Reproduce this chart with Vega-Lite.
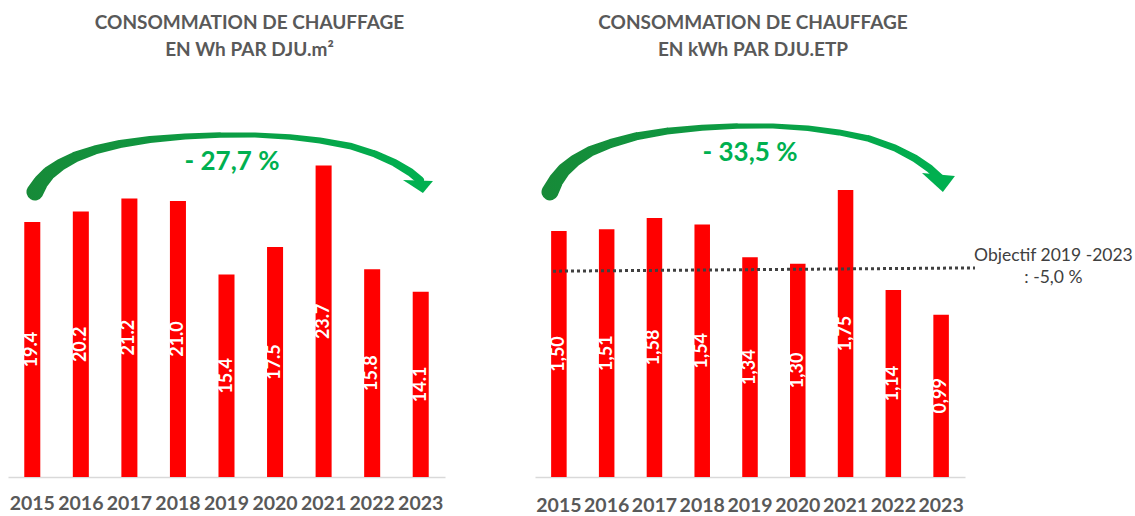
{
  "$schema": "https://vega.github.io/schema/vega-lite/v6.json",
  "background": "white",
  "padding": {"left": 8, "top": 14, "right": 2, "bottom": 2},
  "spacing": 90,
  "config": {"view": {"stroke": null}, "font": "Lato"},
  "datasets": {
    "left": [
      {"year": "2015", "v": 19.4}, {"year": "2016", "v": 20.2}, {"year": "2017", "v": 21.2},
      {"year": "2018", "v": 21.0}, {"year": "2019", "v": 15.4}, {"year": "2020", "v": 17.5},
      {"year": "2021", "v": 23.7}, {"year": "2022", "v": 15.8}, {"year": "2023", "v": 14.1}
    ],
    "right": [
      {"year": "2015", "v": 1.50, "lbl": "1,50"}, {"year": "2016", "v": 1.51, "lbl": "1,51"},
      {"year": "2017", "v": 1.58, "lbl": "1,58"}, {"year": "2018", "v": 1.54, "lbl": "1,54"},
      {"year": "2019", "v": 1.34, "lbl": "1,34"}, {"year": "2020", "v": 1.30, "lbl": "1,30"},
      {"year": "2021", "v": 1.75, "lbl": "1,75"}, {"year": "2022", "v": 1.14, "lbl": "1,14"},
      {"year": "2023", "v": 0.99, "lbl": "0,99"}
    ],
    "arcL": [
      {"yr": 2015.056, "v": 21.69, "t": 17}, {"yr": 2015.180, "v": 22.45, "t": 15},
      {"yr": 2015.344, "v": 23.14, "t": 13.5}, {"yr": 2015.571, "v": 23.74, "t": 12},
      {"yr": 2015.880, "v": 24.35, "t": 10.5}, {"yr": 2016.292, "v": 24.89, "t": 9},
      {"yr": 2016.806, "v": 25.34, "t": 8}, {"yr": 2017.424, "v": 25.68, "t": 7},
      {"yr": 2018.145, "v": 25.91, "t": 6}, {"yr": 2018.866, "v": 26.03, "t": 5.5},
      {"yr": 2019.586, "v": 26.03, "t": 5}, {"yr": 2020.307, "v": 25.88, "t": 5.5},
      {"yr": 2020.925, "v": 25.61, "t": 6}, {"yr": 2021.543, "v": 25.19, "t": 6.5},
      {"yr": 2022.058, "v": 24.58, "t": 7}, {"yr": 2022.469, "v": 23.90, "t": 7.5},
      {"yr": 2022.778, "v": 23.21, "t": 8}, {"yr": 2022.984, "v": 22.60, "t": 8}
    ],
    "arcR": [
      {"yr": 2014.814, "v": 1.738, "t": 17}, {"yr": 2014.940, "v": 1.809, "t": 15},
      {"yr": 2015.107, "v": 1.872, "t": 13.5}, {"yr": 2015.337, "v": 1.929, "t": 12},
      {"yr": 2015.651, "v": 1.985, "t": 10.5}, {"yr": 2016.091, "v": 2.034, "t": 9},
      {"yr": 2016.614, "v": 2.077, "t": 8}, {"yr": 2017.263, "v": 2.109, "t": 7},
      {"yr": 2017.995, "v": 2.130, "t": 6}, {"yr": 2018.728, "v": 2.140, "t": 5.5},
      {"yr": 2019.481, "v": 2.140, "t": 5}, {"yr": 2020.214, "v": 2.126, "t": 5.5},
      {"yr": 2020.862, "v": 2.101, "t": 6}, {"yr": 2021.490, "v": 2.063, "t": 6.5},
      {"yr": 2022.035, "v": 2.006, "t": 7}, {"yr": 2022.453, "v": 1.943, "t": 7.5},
      {"yr": 2022.767, "v": 1.879, "t": 8}, {"yr": 2022.976, "v": 1.823, "t": 8}
    ],
    "headL": [{"yr": 2022.943, "v": 22.22}],
    "headR": [{"yr": 2022.934, "v": 1.805}],
    "pctL": [{"yr": 2019.113, "v": 23.97, "label": "- 27,7 %"}],
    "pctR": [{"yr": 2019.0, "v": 1.976, "label": "- 33,5 %"}],
    "obj": [{"x1": 2014.877, "x2": 2023.709, "y1": 1.255, "y2": 1.275}],
    "objTxt": [{"yr": 2025.35, "v": 1.345, "label": "Objectif 2019 -2023\n: -5,0 %"}]
  },
  "hconcat": [
    {
      "width": 437,
      "height": 397,
      "title": {
        "text": ["CONSOMMATION DE CHAUFFAGE", "EN Wh PAR DJU.m²"],
        "font": "Lato", "fontSize": 19, "fontWeight": "bold", "color": "#595959",
        "lineHeight": 27, "anchor": "middle", "dx": 23, "offset": 20
      },
      "layer": [
        {
          "data": {"name": "left"},
          "mark": {"type": "bar", "color": "#ff0000", "width": {"band": 0.33}},
          "encoding": {
            "x": {"field": "year", "type": "ordinal", "scale": {"paddingInner": 0, "paddingOuter": 0},
              "axis": {"title": null, "ticks": false, "labelAngle": 0, "labelFont": "Lato", "labelFontWeight": "bold",
                "labelFontSize": 19.5, "labelColor": "#595959", "labelPadding": 17, "domainColor": "#d9d9d9",
                "domainWidth": 1.5, "grid": false}},
            "y": {"field": "v", "type": "quantitative", "scale": {"domain": [0, 30.21], "nice": false}, "axis": null}
          }
        },
        {
          "data": {"name": "left"},
          "mark": {"type": "text", "color": "white", "font": "Lato", "fontWeight": "bold", "fontSize": 18,
            "angle": 270, "align": "center", "baseline": "middle"},
          "encoding": {
            "x": {"field": "year", "type": "ordinal", "scale": {"paddingInner": 0, "paddingOuter": 0}, "axis": null},
            "y": {"field": "v", "type": "quantitative", "scale": {"domain": [0, 60.42], "nice": false}, "axis": null},
            "text": {"field": "v", "type": "quantitative", "format": ".1f"}
          }
        },
        {
          "data": {"name": "arcL"},
          "mark": {"type": "trail", "opacity": 1,
            "color": {"gradient": "linear", "x1": 0, "y1": 0, "x2": 1, "y2": 0,
              "stops": [{"offset": 0, "color": "#178a38"}, {"offset": 1, "color": "#00b050"}]}},
          "encoding": {
            "x": {"field": "yr", "type": "quantitative", "scale": {"domain": [2014.5, 2023.5], "nice": false, "zero": false}, "axis": null},
            "y": {"field": "v", "type": "quantitative", "scale": {"domain": [0, 30.21], "nice": false}, "axis": null},
            "size": {"field": "t", "type": "quantitative", "scale": {"domain": [0, 20], "range": [0, 20]}, "legend": null}
          }
        },
        {
          "data": {"name": "headL"},
          "mark": {"type": "point", "filled": true, "opacity": 1, "color": "#00b050", "size": 900,
            "shape": "M -1 -0.333 L 1 -0.267 L 0.333 0.533 Z"},
          "encoding": {
            "x": {"field": "yr", "type": "quantitative", "scale": {"domain": [2014.5, 2023.5], "nice": false, "zero": false}, "axis": null},
            "y": {"field": "v", "type": "quantitative", "scale": {"domain": [0, 30.21], "nice": false}, "axis": null}
          }
        },
        {
          "data": {"name": "pctL"},
          "mark": {"type": "text", "color": "#00b050", "font": "Lato", "fontWeight": "bold", "fontSize": 26,
            "align": "center", "baseline": "middle"},
          "encoding": {
            "x": {"field": "yr", "type": "quantitative", "scale": {"domain": [2014.5, 2023.5], "nice": false, "zero": false}, "axis": null},
            "y": {"field": "v", "type": "quantitative", "scale": {"domain": [0, 30.21], "nice": false}, "axis": null},
            "text": {"field": "label", "type": "nominal"}
          }
        }
      ],
      "resolve": {"scale": {"x": "independent", "y": "independent", "size": "independent"}}
    },
    {
      "width": 430,
      "height": 397,
      "title": {
        "text": ["CONSOMMATION DE CHAUFFAGE", "EN kWh PAR DJU.ETP"],
        "font": "Lato", "fontSize": 19, "fontWeight": "bold", "color": "#595959",
        "lineHeight": 27, "anchor": "middle", "dx": 3, "offset": 20
      },
      "layer": [
        {
          "data": {"name": "right"},
          "mark": {"type": "bar", "color": "#ff0000", "width": {"band": 0.325}},
          "encoding": {
            "x": {"field": "year", "type": "ordinal", "scale": {"paddingInner": 0, "paddingOuter": 0},
              "axis": {"title": null, "ticks": false, "labelAngle": 0, "labelFont": "Lato", "labelFontWeight": "bold",
                "labelFontSize": 19.5, "labelColor": "#595959", "labelPadding": 19, "domainColor": "#d9d9d9",
                "domainWidth": 1.5, "grid": false}},
            "y": {"field": "v", "type": "quantitative", "scale": {"domain": [0, 2.4207], "nice": false}, "axis": null}
          }
        },
        {
          "data": {"name": "right"},
          "mark": {"type": "text", "color": "white", "font": "Lato", "fontWeight": "bold", "fontSize": 18,
            "angle": 270, "align": "center", "baseline": "middle"},
          "encoding": {
            "x": {"field": "year", "type": "ordinal", "scale": {"paddingInner": 0, "paddingOuter": 0}, "axis": null},
            "y": {"field": "v", "type": "quantitative", "scale": {"domain": [0, 4.8414], "nice": false}, "axis": null},
            "text": {"field": "lbl", "type": "nominal"}
          }
        },
        {
          "data": {"name": "obj"},
          "mark": {"type": "rule", "color": "#404040", "strokeWidth": 3, "strokeDash": [3, 3]},
          "encoding": {
            "x": {"field": "x1", "type": "quantitative", "scale": {"domain": [2014.5, 2023.5], "nice": false, "zero": false}, "axis": null},
            "x2": {"field": "x2"},
            "y": {"field": "y1", "type": "quantitative", "scale": {"domain": [0, 2.4207], "nice": false}, "axis": null},
            "y2": {"field": "y2"}
          }
        },
        {
          "data": {"name": "arcR"},
          "mark": {"type": "trail", "opacity": 1,
            "color": {"gradient": "linear", "x1": 0, "y1": 0, "x2": 1, "y2": 0,
              "stops": [{"offset": 0, "color": "#178a38"}, {"offset": 1, "color": "#00b050"}]}},
          "encoding": {
            "x": {"field": "yr", "type": "quantitative", "scale": {"domain": [2014.5, 2023.5], "nice": false, "zero": false}, "axis": null},
            "y": {"field": "v", "type": "quantitative", "scale": {"domain": [0, 2.4207], "nice": false}, "axis": null},
            "size": {"field": "t", "type": "quantitative", "scale": {"domain": [0, 20], "range": [0, 20]}, "legend": null}
          }
        },
        {
          "data": {"name": "headR"},
          "mark": {"type": "point", "filled": true, "opacity": 1, "color": "#00b050", "size": 1156,
            "shape": "M -0.94 -0.47 L 1 -0.29 L 0.29 0.65 Z"},
          "encoding": {
            "x": {"field": "yr", "type": "quantitative", "scale": {"domain": [2014.5, 2023.5], "nice": false, "zero": false}, "axis": null},
            "y": {"field": "v", "type": "quantitative", "scale": {"domain": [0, 2.4207], "nice": false}, "axis": null}
          }
        },
        {
          "data": {"name": "pctR"},
          "mark": {"type": "text", "color": "#00b050", "font": "Lato", "fontWeight": "bold", "fontSize": 26,
            "align": "center", "baseline": "middle"},
          "encoding": {
            "x": {"field": "yr", "type": "quantitative", "scale": {"domain": [2014.5, 2023.5], "nice": false, "zero": false}, "axis": null},
            "y": {"field": "v", "type": "quantitative", "scale": {"domain": [0, 2.4207], "nice": false}, "axis": null},
            "text": {"field": "label", "type": "nominal"}
          }
        },
        {
          "data": {"name": "objTxt"},
          "mark": {"type": "text", "color": "#404040", "font": "Lato", "fontSize": 17.5, "lineHeight": 22,
            "align": "center", "baseline": "middle", "lineBreak": "\n"},
          "encoding": {
            "x": {"field": "yr", "type": "quantitative", "scale": {"domain": [2014.5, 2023.5], "nice": false, "zero": false}, "axis": null},
            "y": {"field": "v", "type": "quantitative", "scale": {"domain": [0, 2.4207], "nice": false}, "axis": null},
            "text": {"field": "label", "type": "nominal"}
          }
        }
      ],
      "resolve": {"scale": {"x": "independent", "y": "independent", "size": "independent"}}
    }
  ]
}
